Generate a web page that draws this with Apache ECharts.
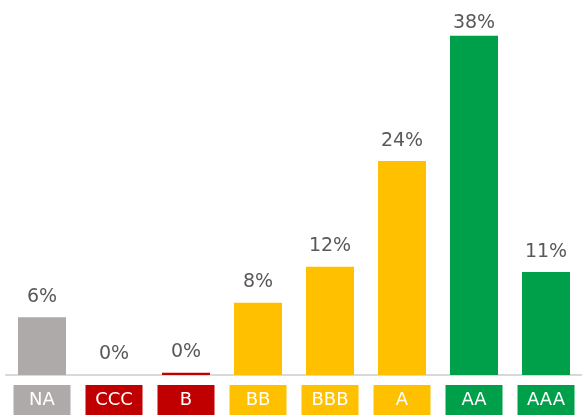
<!DOCTYPE html>
<html>
<head>
<meta charset="utf-8">
<script src="https://cdn.jsdelivr.net/npm/echarts@6/dist/echarts.min.js"></script>
<style>
html,body{margin:0;padding:0;background:#fff;}
#chart{width:582px;height:415px;}
</style>
</head>
<body>
<div id="chart"></div>
<script>
var categories = ['NA', 'CCC', 'B', 'BB', 'BBB', 'A', 'AA', 'AAA'];
var values = [6.4, 0, 0.25, 8.0, 12.0, 23.7, 37.6, 11.4];
var colors = ['#AEAAAA', '#C00000', '#C00000', '#FFC000', '#FFC000', '#FFC000', '#00A04A', '#00A04A'];
var labelKeys = ['c0', 'c1', 'c2', 'c3', 'c4', 'c5', 'c6', 'c7'];

var rich = {};
categories.forEach(function (c, i) {
  rich[labelKeys[i]] = {
    backgroundColor: colors[i],
    color: '#ffffff',
    width: 57,
    height: 30,
    lineHeight: 30,
    align: 'center',
    fontFamily: 'DejaVu Sans',
    fontSize: 18
  };
});

var chart = echarts.init(document.getElementById('chart'), null, {renderer: 'canvas'});
chart.setOption({
  animation: false,
  backgroundColor: '#ffffff',
  grid: {left: 6, right: -3, top: 14, bottom: 36, containLabel: false},
  xAxis: {
    type: 'category',
    data: categories,
    axisLine: {show: true, lineStyle: {color: '#D9D9D9', width: 2}},
    axisTick: {show: false},
    axisLabel: {
      interval: 0,
      margin: 10,
      formatter: function (v) {
        var i = categories.indexOf(v);
        return '{' + labelKeys[i] + '|' + v + '}';
      },
      rich: rich
    }
  },
  yAxis: {
    type: 'value',
    min: 0,
    max: 40,
    show: false,
    splitLine: {show: false}
  },
  series: [{
    type: 'bar',
    barWidth: 48,
    data: values.map(function (v, i) {
      var item = {value: v, itemStyle: {color: colors[i]}};
      if (categories[i] === 'AA') item.label = {distance: 3};
      return item;
    }),
    label: {
      show: true,
      position: 'top',
      distance: 11,
      color: '#595959',
      fontFamily: 'DejaVu Sans',
      fontSize: 19,
      formatter: function (p) { return Math.round(p.value) + '%'; }
    }
  }]
});
</script>
</body>
</html>
